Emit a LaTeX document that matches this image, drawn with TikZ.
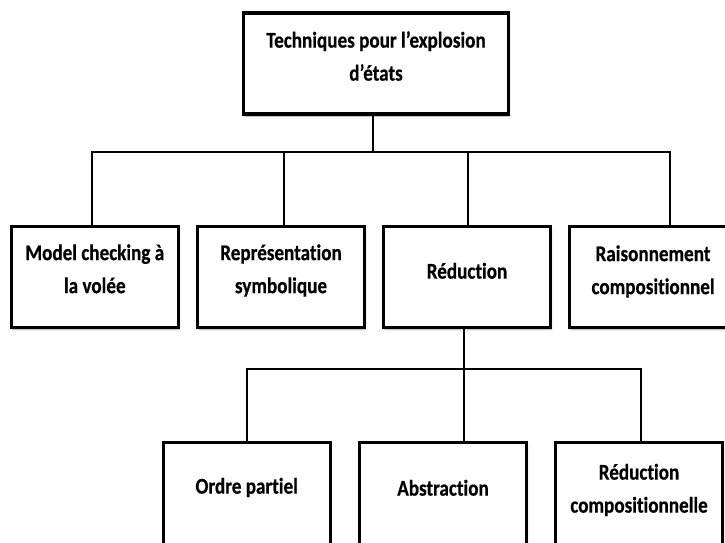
\documentclass[tikz,border=0pt]{standalone}
\usepackage{fontspec}
\setmainfont{Carlito}[Ligatures=NoCommon, BoldFeatures={FakeBold=0.6}]
\usetikzlibrary{shadows.blur}
% narrow, centred multi-line caption
\newcommand\narrowtext[1]{\scalebox{0.85}[1]{\begin{tabular}{@{}c@{}}#1\end{tabular}}}
\begin{document}
\begin{tikzpicture}[x=1pt,y=-1pt,
  box/.style={draw=black, line width=2.2pt, fill=white, inner sep=0pt,
    minimum width=166pt, minimum height=100pt,
    blur shadow={shadow xshift=1pt, shadow yshift=-2.5pt, shadow blur steps=6, shadow opacity=35}},
  caption/.style={font=\bfseries\fontsize{22.5}{33}\selectfont, inner sep=0pt},
  link/.style={line width=1.8pt, line cap=rect, line join=miter}]
\useasboundingbox (0,0) rectangle (725,542);
\clip (0,0) rectangle (725,542);

% connector levels
\coordinate (bus1) at (373,152);
\coordinate (bus2) at (464,369);

% boxes
\node[box, minimum width=264pt] (top) at (376,63.5) {};
\node[box] (m1) at (94.8,277) {};
\node[box] (m2) at (281,277) {};
\node[box] (m3) at (467,277) {};
\node[box] (m4) at (653,277) {};
\node[box, minimum height=130pt] (b1) at (246.7,508) {};
\node[box, minimum height=130pt] (b2) at (443,508) {};
\node[box, minimum height=130pt] (b3) at (639,508) {};

% drop points on the boxes
\coordinate (t0) at ([xshift=-3pt]top.south);
\coordinate (d1) at ([xshift=-3pt]m1.north);
\coordinate (d2) at ([xshift=3pt]m2.north);
\coordinate (d3) at ([xshift=1pt]m3.north);
\coordinate (d4) at ([xshift=17pt]m4.north);
\coordinate (u3) at ([xshift=-3pt]m3.south);
\coordinate (e1) at (b1.north);
\coordinate (e2) at ([xshift=21pt]b2.north);
\coordinate (e3) at ([xshift=2pt]b3.north);

% connectors
\draw[link] (t0) -- (t0 |- bus1);
\draw[link] (d1) |- (d4 |- bus1) -- (d4);
\draw[link] (d2) -- (d2 |- bus1);
\draw[link] (d3) -- (d3 |- bus1);
\draw[link] (u3) -- (e2);
\draw[link] (e1) |- (e3 |- bus2) -- (e3);

% box outlines over the connector ends
\foreach \n in {top,m1,m2,m3,m4,b1,b2,b3}{
  \draw[line width=2.2pt] (\n.north west) rectangle (\n.south east);
}

% captions
\node[caption] (top-t) at (376,57.5) {\narrowtext{Techniques pour l’explosion\\d’états}};
\node[caption] (m1-t) at (94.8,270) {\narrowtext{Model checking à\\la volée}};
\node[caption] (m2-t) at (281,270) {\narrowtext{Représentation\\symbolique}};
\node[caption] (m3-t) at (467,272) {\narrowtext{Réduction}};
\node[caption] (m4-t) at (653,271) {\narrowtext{Raisonnement\\compositionnel}};
\node[caption] (b1-t) at (246.7,487) {\narrowtext{Ordre partiel}};
\node[caption] (b2-t) at (443,489) {\narrowtext{Abstraction}};
\node[caption] (b3-t) at (639,489.5) {\narrowtext{Réduction\\compositionnelle}};
\end{tikzpicture}
\end{document}
